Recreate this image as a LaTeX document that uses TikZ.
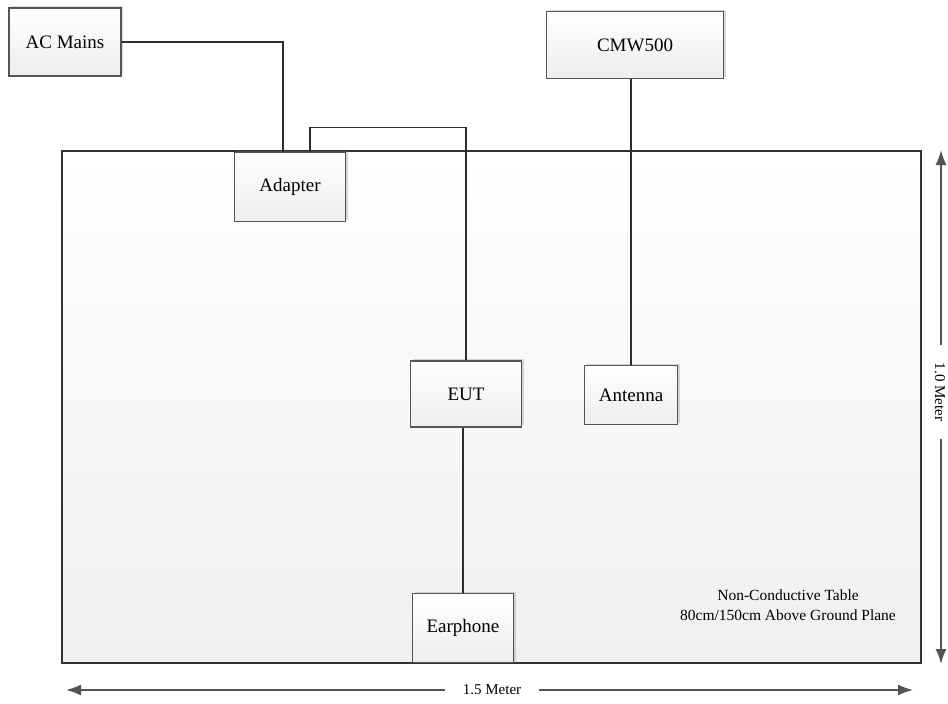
\documentclass[tikz,border=0pt]{standalone}
\usepackage{fontspec}
\setmainfont{Liberation Serif}
\usetikzlibrary{arrows.meta,positioning,shadows}
\definecolor{wirecolor}{RGB}{45,45,45}
\definecolor{boxedge}{RGB}{85,85,85}

\tikzset{
  unit/.style={draw=boxedge,line width=1.6pt,top color=white,bottom color=gray!14,
    drop shadow={shadow xshift=2pt,shadow yshift=2pt,opacity=0.3},
    font=\fontsize{19}{21}\selectfont,inner sep=0pt},
  wire/.style={draw=wirecolor,line width=1.5pt},
  dimline/.style={draw=gray!65!black,line width=1.6pt,-{Latex[length=15pt,width=11pt]}},
  dimlabel/.style={font=\fontsize{15}{17}\selectfont,inner xsep=18pt,inner ysep=2pt}
}

\begin{document}
\begin{tikzpicture}[x=1pt,y=-1pt]
        \useasboundingbox (0,0) rectangle (948,704);
        % table
        \node[draw=black!80,line width=2.6pt,top color=white,bottom color=gray!12,
          minimum width=859,minimum height=512,inner sep=0pt] (table) at (491.5,407) {};
        \node[align=center,font=\fontsize{15.5}{20}\selectfont] (tabletext) at (788,605)
          {Non-Conductive Table\\80cm/150cm Above Ground Plane};
        % units
        \node[unit,minimum width=112,minimum height=68] (acmains) at (65,42) {AC Mains};
        \node[unit,minimum width=177,minimum height=67] (cmw) at (635,45) {CMW500};
        \node[unit,minimum width=111,minimum height=69] (adapter) at (290,187) {Adapter};
        \node[unit,minimum width=111,minimum height=66] (eut) at (466,394) {EUT};
        \node[unit,minimum width=93,minimum height=59] (antenna) at (631,395) {Antenna};
        \node[unit,minimum width=101,minimum height=69] (earphone) at (463,628) {Earphone};
        % wiring
        \draw[wire] (acmains.east) -| ([xshift=-7]adapter.north);
        \draw[wire] ([xshift=20]adapter.north) -- ++(0,-24) -| (eut.north);
        \draw[wire] (cmw.south -| antenna.north) -- (antenna.north);
        \draw[wire] (eut.south -| earphone.north) -- (earphone.north);
        % dimensions
        \coordinate (hleft) at (66,690);
        \coordinate (hright) at (913,690);
        \coordinate (vtop) at (941,150);
        \coordinate (vbot) at (941,664);
        \node[dimlabel] (hlabel) at (492,690) {1.5 Meter};
        \node[dimlabel,rotate=-90] (vlabel) at (940,392) {1.0 Meter};
        \draw[dimline] (hlabel.west) -- (hleft);
        \draw[dimline] (hlabel.east) -- (hright);
        \draw[dimline] (vlabel.west -| vtop) -- (vtop);
        \draw[dimline] (vlabel.east -| vbot) -- (vbot);
      \end{tikzpicture}
\end{document}
